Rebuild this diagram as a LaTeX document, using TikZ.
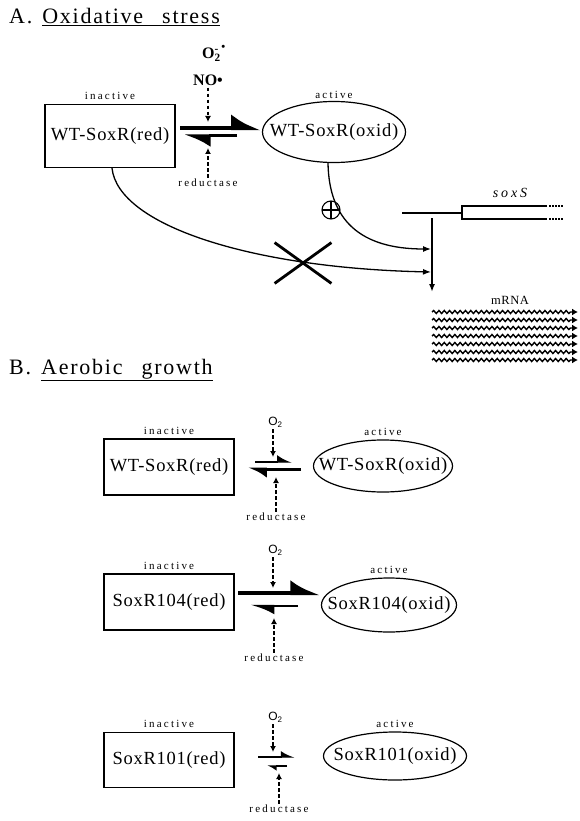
\documentclass[tikz,border=0pt]{standalone}
\usepackage{fontspec}
\setmainfont{Liberation Serif}
\newfontfamily\headfont[LetterSpace=8]{Liberation Serif}
\newfontfamily\widefont[LetterSpace=4]{Liberation Serif}
\newfontfamily\tagfont[LetterSpace=20]{Liberation Serif}
\newfontfamily\oxyfont{Liberation Sans}
\usetikzlibrary{arrows.meta, positioning, shapes.geometric, shapes.misc, calc, decorations.pathmorphing}

\begin{document}
\begin{tikzpicture}[
    x=1pt, y=-1pt,
    >=Latex,
    heading/.style={anchor=base west, inner sep=0pt, font=\headfont\fontsize{22}{26}\selectfont},
    redbox/.style={rectangle, draw, line width=1.2pt, minimum width=130pt, minimum height=56pt, inner sep=2pt, font=\widefont\fontsize{18.5}{22}\selectfont},
    oxbox/.style={ellipse, draw, line width=1.2pt, minimum width=139pt, minimum height=52pt, inner xsep=-22pt, inner ysep=0pt, font=\widefont\fontsize{18.5}{22}\selectfont},
    tag/.style={inner sep=1pt, font=\tagfont\fontsize{11}{13}\selectfont},
    oxy/.style={inner sep=2pt, font=\oxyfont\fontsize{12}{14}\selectfont},
    radical/.style={inner sep=2pt, font=\bfseries\fontsize{16}{18}\selectfont},
    effector/.style={dash pattern=on 3.5pt off 2.5pt, line width=1.4pt, -{Latex[length=6pt, width=6pt]}},
    flow/.style={line width=1.3pt, -{Latex[length=8pt, width=6pt]}},
    harp/.style n args={3}{line width=#1, -{Latex[left, length=#2, width=#3]}},
    message/.style={line width=1.4pt, decorate, decoration={snake, segment length=5.3pt, amplitude=1.5pt, post length=5pt}, -{Latex[length=6pt, width=7pt]}}
]
\useasboundingbox (0,0) rectangle (579,821);

% A. oxidative stress
\node[heading] (titleA) at (9,24) {A.\hspace{10pt}\underline{Oxidative\hspace{19pt}stress}};

\node[redbox, minimum height=63pt] (redA) at (110,136) {WT-SoxR(red)};
\node[tag, above=3pt of redA] (inactA) {inactive};
\node[oxbox, minimum width=143pt, minimum height=61pt] (oxA) at (334,132) {WT-SoxR(oxid)};
\node[tag, above=1pt of oxA] (actA) {active};

\coordinate (midA) at (208,132);
\node[radical] (supA) at (214,53) {O\rlap{\textsubscript{2}}\textsuperscript{-}\,\textsuperscript{\raisebox{2pt}{•}}};
\node[radical] (noA) at (208,80) {NO•};
\node[tag] (redaseA) at (208,183) {reductase};
\draw[harp={4.5pt}{24pt}{28pt}] ($(midA)+(-28,-4)$) -- ($(midA)+(53,-4)$);
\draw[harp={3pt}{22pt}{22pt}] ($(midA)+(29,4)$) -- ($(midA)+(-24,4)$);
\draw[effector] (noA) -- ($(midA)+(0,-10)$);
\draw[effector] (redaseA) -- ($(midA)+(0,16)$);

% soxS gene and its transcript
\node[inner sep=1pt, font=\tagfont\itshape\fontsize{14}{16}\selectfont] (soxS) at (510,193) {soxS};
\draw[line width=1.3pt] (402,213) -- (462,213) (547,206) -- (462,206) -- (462,219) -- (547,219);
\draw[line width=1.3pt, dash pattern=on 1.5pt off 1.5pt] (549,206) -- (563,206) (549,219) -- (563,219);
\coordinate (tss) at (432,218);
\coordinate (tssEnd) at (432,292);
\coordinate (hitOx) at (431,249);
\coordinate (hitRed) at (431,272);
\draw[flow, line width=1.6pt] (tss) -- (tssEnd);
\draw[flow] ([xshift=-6pt]oxA.south) .. controls (329,220) and (360,249) .. (hitOx);
\draw[flow] ([xshift=2pt]redA.south) .. controls (118,225) and (250,268) .. (hitRed);
\node[circle, draw, line width=1.1pt, minimum size=18pt, inner sep=0pt,
      path picture={\draw[line width=1.1pt] (path picture bounding box.north) -- (path picture bounding box.south)
                    (path picture bounding box.west) -- (path picture bounding box.east);}] (plus) at (331,210) {};
\node[cross out, draw, line width=2.8pt, minimum width=54pt, minimum height=38pt, inner sep=0pt] (block) at (303,263) {};

\node[inner sep=1pt, font=\widefont\fontsize{12.5}{14}\selectfont] (mrna) at (510,300) {mRNA};
\foreach \k in {0,...,6}
    \draw[message] (432,{312+8*\k}) -- (578,{312+8*\k});

% B. aerobic growth
\node[heading] (titleB) at (9,374) {B.\hspace{10pt}\underline{Aerobic\hspace{19pt}growth}};

% wild type
\node[redbox] (redB1) at (169,467) {WT-SoxR(red)};
\node[tag, above=3pt of redB1] (inactB1) {inactive};
\node[oxbox] (oxB1) at (383,466) {WT-SoxR(oxid)};
\node[tag, above=3pt of oxB1] (actB1) {active};
\coordinate (midB1) at (273,466);
\node[oxy] (o2B1) at (273,422) {O\rlap{\textsubscript{2}}};
\node[tag] (redaseB1) at (276,517) {reductase};
\draw[harp={1.4pt}{13pt}{14pt}] ($(midB1)+(-18,-4)$) -- ($(midB1)+(19,-4)$);
\draw[harp={3pt}{15pt}{18pt}] ($(midB1)+(28,3)$) -- ($(midB1)+(-25,3)$);
\draw[effector] (o2B1) -- ($(midB1)+(0,-9)$);
\draw[effector] (redaseB1) -- ($(midB1)+(3,11)$);

% SoxR104
\node[redbox] (redB2) at (169,602) {SoxR104(red)};
\node[tag, above=3pt of redB2] (inactB2) {inactive};
\node[oxbox, minimum width=135pt, minimum height=54pt] (oxB2) at (389,605) {SoxR104(oxid)};
\node[tag, above=3pt of oxB2] (actB2) {active};
\coordinate (midB2) at (273,600);
\node[oxy] (o2B2) at (273,550) {O\rlap{\textsubscript{2}}};
\node[tag] (redaseB2) at (274,658) {reductase};
\draw[harp={4pt}{24pt}{26pt}] ($(midB2)+(-35,-7)$) -- ($(midB2)+(47,-7)$);
\draw[harp={2.5pt}{20pt}{17pt}] ($(midB2)+(25,6)$) -- ($(midB2)+(-23,6)$);
\draw[effector] (o2B2) -- ($(midB2)+(0,-12)$);
\draw[effector] (redaseB2) -- ($(midB2)+(1,18)$);

% SoxR101
\node[redbox, minimum height=55pt] (redB3) at (169,760) {SoxR101(red)};
\node[tag, above=3pt of redB3] (inactB3) {inactive};
\node[oxbox, minimum width=143pt, minimum height=48pt] (oxB3) at (395,756) {SoxR101(oxid)};
\node[tag, above=3pt of oxB3] (actB3) {active};
\coordinate (midB3) at (276,761);
\node[oxy] (o2B3) at (273,717) {O\rlap{\textsubscript{2}}};
\node[tag] (redaseB3) at (279,809) {reductase};
\draw[harp={1.4pt}{12pt}{12pt}] ($(midB3)+(-18,-4)$) -- ($(midB3)+(19,-4)$);
\draw[harp={1.4pt}{8pt}{10pt}] ($(midB3)+(11,5)$) -- ($(midB3)+(-9,5)$);
\draw[effector] (o2B3) -- ($(midB3)+(-3,-9)$);
\draw[effector] (redaseB3) -- ($(midB3)+(3,12)$);
\end{tikzpicture}
\end{document}
